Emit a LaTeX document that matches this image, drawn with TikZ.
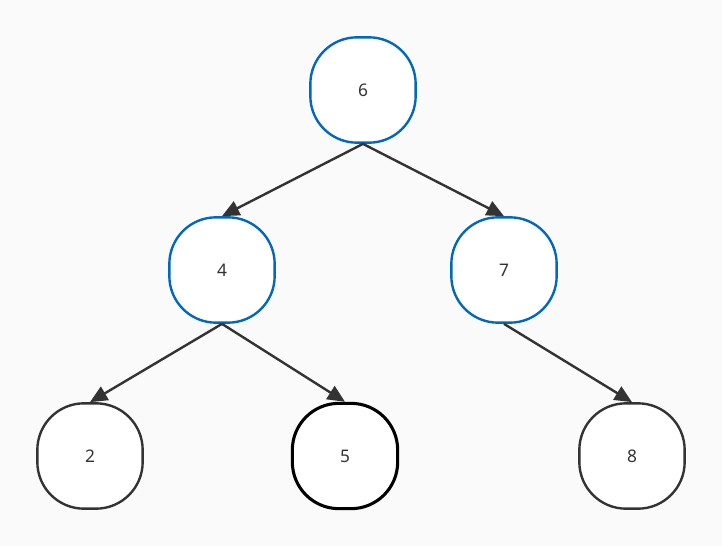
\documentclass[tikz,border=0pt]{standalone}
\usepackage{fontspec}
\setmainfont{Noto Sans}
\usetikzlibrary{arrows.meta,positioning}

\begin{document}
\begin{tikzpicture}[
    x=0.75pt, y=-0.75pt,
    every node/.style={font=\fontsize{13}{15}\selectfont, text=black!80},
    tnode/.style={draw, fill=white, rectangle, rounded corners=35pt,
        minimum size=79pt, inner sep=0pt, line width=1.8pt},
    edge/.style={line width=1.8pt, draw=black!80,
        -{Triangle[length=13pt,width=11.5pt]}}
]
    \colorlet{blu}{blue!45!cyan!75!black}
    \colorlet{dgr}{black!80}

    \fill[black!2] (0,0) rectangle (722,546);
    \useasboundingbox (0,0) rectangle (722,546);

    \node[tnode, draw=blu] (n6) at (363,90) {6};
    \node[tnode, draw=blu] (n4) at (222,270) {4};
    \node[tnode, draw=blu] (n7) at (504,270) {7};
    \node[tnode, draw=dgr] (n2) at (90,456) {2};
    \node[tnode, draw=black, line width=2.3pt] (n5) at (345,456) {5};
    \node[tnode, draw=dgr] (n8) at (632,456) {8};

    \draw [edge] (n6.south) -- (n4.north);
    \draw [edge] (n6.south) -- (n7.north);
    \draw [edge] (n4.south) -- (n2.north);
    \draw [edge] (n4.south) -- (n5.north);
    \draw [edge] (n7.south) -- (n8.north);
\end{tikzpicture}
\end{document}
